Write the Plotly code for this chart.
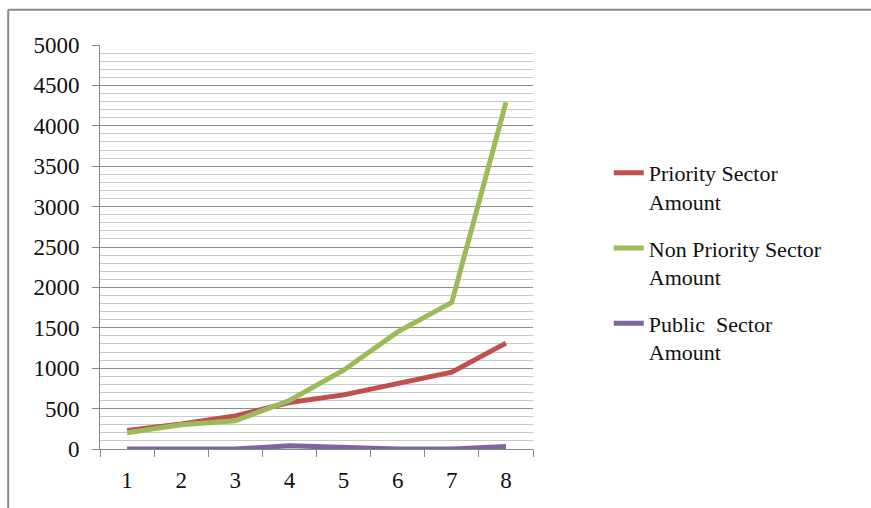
import plotly.graph_objects as go

categories = ["1", "2", "3", "4", "5", "6", "7", "8"]
priority = [230, 310, 410, 575, 670, 805, 950, 1310]
non_priority = [200, 300, 350, 600, 975, 1450, 1815, 4290]
public = [0, 0, 0, 40, 20, 0, 0, 30]
names = ["Priority Sector<br>Amount", "Non Priority Sector<br>Amount", "Public\u00a0 Sector<br>Amount"]
colors = ["#C0504D", "#9BBB59", "#8064A2"]

FONT = "Liberation Serif"

fig = go.Figure()
for i, (vals, nm, col) in enumerate(zip([priority, non_priority, public], names, colors)):
    fig.add_trace(go.Scatter(
        x=categories, y=vals, name=nm, mode="lines",
        line=dict(color=col, width=5), legendgroup=f"g{i}",
    ))

fig.update_layout(
    width=871, height=508,
    margin=dict(l=100, r=338, t=45, b=59),
    paper_bgcolor="white", plot_bgcolor="white",
    font=dict(family=FONT, size=22, color="#111111"),
    showlegend=True,
    legend=dict(
        x=1.175, y=0.735, xanchor="left", yanchor="top",
        font=dict(family=FONT, size=22, color="#111111"),
        tracegroupgap=15, traceorder="grouped", valign="top",
        bgcolor="rgba(0,0,0,0)",
    ),
    xaxis=dict(
        type="category", range=[-0.5, 7.5],
        showline=True, linecolor="#888888", linewidth=1,
        ticks="outside", tickson="boundaries", ticklen=7, tickcolor="#888888",
        showgrid=False, zeroline=False,
        tickfont=dict(family=FONT, size=23),
        ticklabelstandoff=10,
    ),
    yaxis=dict(
        range=[0, 5000], dtick=500, tick0=0,
        showline=True, linecolor="#888888", linewidth=1,
        ticks="outside", ticklen=7, tickcolor="#888888",
        showgrid=True, gridcolor="#8c8c8c", gridwidth=1,
        zeroline=False,
        minor=dict(dtick=100, showgrid=True, gridcolor="#c9c9c9", gridwidth=1, ticks=""),
        tickfont=dict(family=FONT, size=23),
        ticklabelstandoff=8,
    ),
)

# outer chart frame (top and left edges visible)
fig.add_shape(type="line", xref="paper", yref="paper",
              x0=-0.212, x1=1.9, y0=1.087, y1=1.087,
              line=dict(color="#8a8a8a", width=2))
fig.add_shape(type="line", xref="paper", yref="paper",
              x0=-0.212, x1=-0.212, y0=1.087, y1=-0.2,
              line=dict(color="#8a8a8a", width=2))

fig.write_html("out.html")
